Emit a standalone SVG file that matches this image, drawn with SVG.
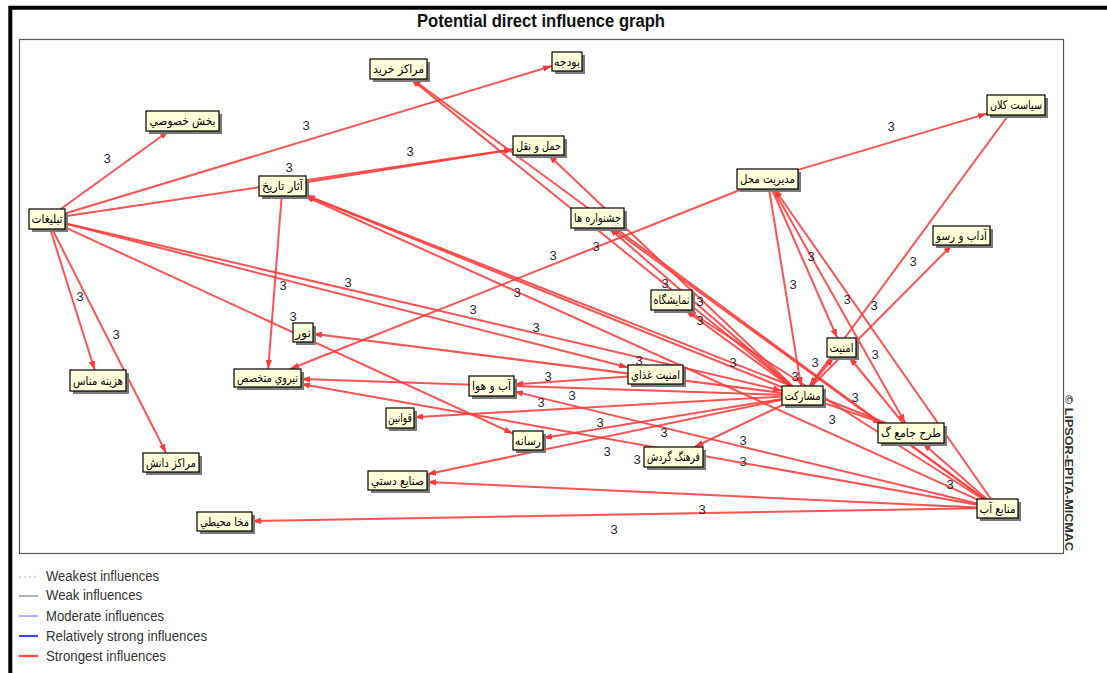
<svg xmlns="http://www.w3.org/2000/svg" width="1107" height="673" viewBox="0 0 1107 673">
<defs>
<marker id="ah" viewBox="0 0 10 7" refX="10" refY="3.5" markerWidth="9" markerHeight="7" markerUnits="userSpaceOnUse" orient="auto">
<path d="M0,0 L10,3.5 L0,7 z" fill="#ff3a3a"/>
</marker>
<style>
.e line{stroke:#ff3a3a;stroke-opacity:0.88;stroke-width:2;fill:none;marker-end:url(#ah)}
.lb{font-family:"Liberation Sans",Arial,sans-serif;font-size:13px;fill:#2b2b33;text-anchor:middle}
.sh{fill:#7a7a7a}
.bx{fill:#ffffd9;stroke:#000;stroke-width:1.2}
.nt{font-family:"DejaVu Sans","Noto Sans",sans-serif;font-size:12px;fill:#000;text-anchor:middle}
.lg{font-family:"Liberation Sans",Arial,sans-serif;font-size:14px;fill:#333}
</style>
</defs>
<rect x="0" y="0" width="1107" height="673" fill="#fff"/>
<path d="M10.3,673 V7.7 H1107" fill="none" stroke="#000" stroke-width="4"/>
<text x="541" y="27" font-family="Liberation Sans,Arial,sans-serif" font-weight="bold" font-size="18" text-anchor="middle" textLength="248" lengthAdjust="spacingAndGlyphs" fill="#111">Potential direct influence graph</text>
<rect x="19.5" y="39.5" width="1044" height="514" fill="#fff" stroke="#555" stroke-width="1.2"/>
<text transform="translate(1065,395) rotate(90)" font-family="Liberation Sans,Arial,sans-serif" font-size="10.5" font-weight="bold" fill="#333" textLength="156" lengthAdjust="spacingAndGlyphs">© LIPSOR-EPITA-MICMAC</text>

<g id="connectors" class="e">
<line x1="60.8" y1="209" x2="168.7" y2="131"/>
<line x1="65" y1="213.5" x2="552" y2="66"/>
<line x1="65" y1="216.3" x2="513" y2="149.3"/>
<line x1="306" y1="182.3" x2="513" y2="149.5"/>
<line x1="798" y1="169.9" x2="987" y2="113.6"/>
<line x1="742.4" y1="189" x2="290.1" y2="369"/>
<line x1="50.2" y1="229" x2="94.7" y2="370"/>
<line x1="52.1" y1="229" x2="166.2" y2="453"/>
<line x1="281.7" y1="196" x2="268.2" y2="369"/>
<line x1="790.7" y1="386" x2="410.9" y2="79"/>
<line x1="792.5" y1="386" x2="548.5" y2="155"/>
<line x1="984.5" y1="499" x2="412.1" y2="79"/>
<line x1="791.5" y1="386" x2="609" y2="228"/>
<line x1="789.5" y1="386" x2="685.2" y2="310"/>
<line x1="982.6" y1="499" x2="687.1" y2="310"/>
<line x1="65" y1="227.3" x2="513" y2="433.6"/>
<line x1="65" y1="223.6" x2="628" y2="367.5"/>
<line x1="65" y1="223.2" x2="782" y2="390.7"/>
<line x1="977" y1="499.3" x2="304.7" y2="196"/>
<line x1="782" y1="387.2" x2="306" y2="195.5"/>
<line x1="885.6" y1="423" x2="306" y2="195.2"/>
<line x1="977" y1="508.2" x2="252" y2="521"/>
<line x1="977" y1="507.5" x2="427" y2="481.9"/>
<line x1="977" y1="504.8" x2="301" y2="384"/>
<line x1="977" y1="503.5" x2="514" y2="391.4"/>
<line x1="986.6" y1="499" x2="922.5" y2="443"/>
<line x1="990.9" y1="499" x2="774.5" y2="189"/>
<line x1="769.1" y1="189" x2="801" y2="386"/>
<line x1="771.9" y1="189" x2="837.3" y2="338"/>
<line x1="773.1" y1="189" x2="905.3" y2="423"/>
<line x1="811.9" y1="386" x2="952.1" y2="245"/>
<line x1="1008.6" y1="115" x2="809.5" y2="386"/>
<line x1="810.2" y1="386" x2="833.8" y2="357"/>
<line x1="823" y1="402.6" x2="882.1" y2="423"/>
<line x1="782" y1="392.9" x2="313" y2="333.8"/>
<line x1="628" y1="376.4" x2="514" y2="384.4"/>
<line x1="782" y1="394.8" x2="301" y2="379.1"/>
<line x1="782" y1="396.6" x2="414" y2="417.2"/>
<line x1="782" y1="398.9" x2="543" y2="438"/>
<line x1="782" y1="399.8" x2="427" y2="474.3"/>
<line x1="782.6" y1="405" x2="694.5" y2="447"/>
<line x1="984.4" y1="499" x2="611.3" y2="228"/>
<line x1="902.9" y1="423" x2="849.2" y2="357"/>
</g>

<g id="connector-labels" class="lb">
<text x="107" y="163">3</text><text x="306" y="130">3</text><text x="289" y="172">3</text><text x="410" y="156">3</text>
<text x="891" y="131">3</text><text x="553" y="260">3</text><text x="596" y="251">3</text><text x="80" y="301">3</text>
<text x="116" y="339">3</text><text x="283" y="290">3</text><text x="348" y="287">3</text><text x="293" y="321">3</text>
<text x="473" y="314">3</text><text x="517" y="297">3</text><text x="536" y="332">3</text><text x="665" y="288">3</text>
<text x="700" y="306">3</text><text x="700" y="325">3</text><text x="639" y="365">3</text><text x="548" y="381">3</text>
<text x="572" y="400">3</text><text x="541" y="407">3</text><text x="600" y="427">3</text><text x="664" y="437">3</text>
<text x="607" y="456">3</text><text x="637" y="464">3</text><text x="702" y="514">3</text><text x="614" y="534">3</text>
<text x="733" y="367">3</text><text x="815" y="367">3</text><text x="795" y="381">3</text><text x="875" y="359">3</text>
<text x="855" y="402">3</text><text x="832" y="424">3</text><text x="743" y="445">3</text><text x="743" y="466">3</text>
<text x="950" y="489">3</text><text x="793" y="289">3</text><text x="847" y="304">3</text><text x="874" y="310">3</text>
<text x="811" y="261">3</text><text x="913" y="266">3</text>
</g>

<g id="node-budjeh"><rect class="sh" x="555" y="55" width="30" height="19"/><rect class="bx" x="552" y="52" width="30" height="19"/><text class="nt" x="567" y="65.5" textLength="26" lengthAdjust="spacingAndGlyphs">بودجه</text></g>
<g id="node-marakez-kharid"><rect class="sh" x="373" y="62" width="57" height="20"/><rect class="bx" x="370" y="59" width="57" height="20"/><text class="nt" x="398.5" y="73" textLength="51" lengthAdjust="spacingAndGlyphs">مراکز خريد</text></g>
<g id="node-bakhsh-khosusi"><rect class="sh" x="149" y="114" width="73" height="20"/><rect class="bx" x="146" y="111" width="73" height="20"/><text class="nt" x="182.5" y="125" textLength="66" lengthAdjust="spacingAndGlyphs">بخش خصوصي</text></g>
<g id="node-haml-naghl"><rect class="sh" x="516" y="139" width="51" height="19"/><rect class="bx" x="513" y="136" width="51" height="19"/><text class="nt" x="538.5" y="149.5" textLength="45" lengthAdjust="spacingAndGlyphs">حمل و نقل</text></g>
<g id="node-asar-tarikh"><rect class="sh" x="262" y="179" width="47" height="20"/><rect class="bx" x="259" y="176" width="47" height="20"/><text class="nt" x="282.5" y="190" textLength="41" lengthAdjust="spacingAndGlyphs">آثار تاريخ</text></g>
<g id="node-tablighat"><rect class="sh" x="32" y="212" width="36" height="20"/><rect class="bx" x="29" y="209" width="36" height="20"/><text class="nt" x="47" y="223" textLength="31" lengthAdjust="spacingAndGlyphs">تبليغات</text></g>
<g id="node-jashnvareh"><rect class="sh" x="574" y="211" width="53" height="20"/><rect class="bx" x="571" y="208" width="53" height="20"/><text class="nt" x="597.5" y="222" textLength="47" lengthAdjust="spacingAndGlyphs">جشنواره ها</text></g>
<g id="node-siasat-kalan"><rect class="sh" x="990" y="98" width="58" height="20"/><rect class="bx" x="987" y="95" width="58" height="20"/><text class="nt" x="1016" y="109" textLength="52" lengthAdjust="spacingAndGlyphs">سياست کلان</text></g>
<g id="node-modiriat-mahal"><rect class="sh" x="740" y="172" width="61" height="20"/><rect class="bx" x="737" y="169" width="61" height="20"/><text class="nt" x="767.5" y="183" textLength="55" lengthAdjust="spacingAndGlyphs">مديريت محل</text></g>
<g id="node-adab-rosum"><rect class="sh" x="936" y="229" width="57" height="19"/><rect class="bx" x="933" y="226" width="57" height="19"/><text class="nt" x="961.5" y="239.5" textLength="51" lengthAdjust="spacingAndGlyphs">آداب و رسو</text></g>
<g id="node-namayeshgah"><rect class="sh" x="654" y="293" width="41" height="20"/><rect class="bx" x="651" y="290" width="41" height="20"/><text class="nt" x="671.5" y="304" textLength="36" lengthAdjust="spacingAndGlyphs">نمايشگاه</text></g>
<g id="node-nur"><rect class="sh" x="296" y="326" width="20" height="19"/><rect class="bx" x="293" y="323" width="20" height="19"/><text class="nt" x="303" y="336.5" textLength="16" lengthAdjust="spacingAndGlyphs">نور</text></g>
<g id="node-amniat"><rect class="sh" x="830" y="341" width="29" height="19"/><rect class="bx" x="827" y="338" width="29" height="19"/><text class="nt" x="841.5" y="351.5" textLength="24" lengthAdjust="spacingAndGlyphs">امنيت</text></g>
<g id="node-hazineh"><rect class="sh" x="73" y="373" width="56" height="21"/><rect class="bx" x="70" y="370" width="56" height="21"/><text class="nt" x="98" y="384.5" textLength="50" lengthAdjust="spacingAndGlyphs">هزينه مناس</text></g>
<g id="node-niruye-motekhases"><rect class="sh" x="237" y="372" width="67" height="18"/><rect class="bx" x="234" y="369" width="67" height="18"/><text class="nt" x="267.5" y="382" textLength="61" lengthAdjust="spacingAndGlyphs">نيروي متخصص</text></g>
<g id="node-amniat-ghazai"><rect class="sh" x="631" y="368" width="55" height="19"/><rect class="bx" x="628" y="365" width="55" height="19"/><text class="nt" x="655.5" y="378.5" textLength="49" lengthAdjust="spacingAndGlyphs">امنيت غذاي</text></g>
<g id="node-ab-hava"><rect class="sh" x="472" y="379" width="45" height="20"/><rect class="bx" x="469" y="376" width="45" height="20"/><text class="nt" x="491.5" y="390" textLength="39" lengthAdjust="spacingAndGlyphs">آب و هوا</text></g>
<g id="node-mosharekat"><rect class="sh" x="785" y="389" width="41" height="19"/><rect class="bx" x="782" y="386" width="41" height="19"/><text class="nt" x="802.5" y="399.5" textLength="36" lengthAdjust="spacingAndGlyphs">مشارکت</text></g>
<g id="node-ghavanin"><rect class="sh" x="389" y="411" width="28" height="20"/><rect class="bx" x="386" y="408" width="28" height="20"/><text class="nt" x="400" y="422" textLength="24" lengthAdjust="spacingAndGlyphs">قوانين</text></g>
<g id="node-resaneh"><rect class="sh" x="516" y="434" width="30" height="19"/><rect class="bx" x="513" y="431" width="30" height="19"/><text class="nt" x="528" y="444.5" textLength="26" lengthAdjust="spacingAndGlyphs">رسانه</text></g>
<g id="node-tarh-jame"><rect class="sh" x="881" y="426" width="66" height="20"/><rect class="bx" x="878" y="423" width="66" height="20"/><text class="nt" x="911" y="437" textLength="60" lengthAdjust="spacingAndGlyphs">طرح جامع گ</text></g>
<g id="node-farhang-gardesh"><rect class="sh" x="647" y="450" width="59" height="20"/><rect class="bx" x="644" y="447" width="59" height="20"/><text class="nt" x="673.5" y="461" textLength="53" lengthAdjust="spacingAndGlyphs">فرهنگ گردش</text></g>
<g id="node-marakez-danesh"><rect class="sh" x="146" y="456" width="56" height="19"/><rect class="bx" x="143" y="453" width="56" height="19"/><text class="nt" x="171" y="466.5" textLength="50" lengthAdjust="spacingAndGlyphs">مراکز دانش</text></g>
<g id="node-sanaye-dasti"><rect class="sh" x="371" y="474" width="59" height="19"/><rect class="bx" x="368" y="471" width="59" height="19"/><text class="nt" x="397.5" y="484.5" textLength="53" lengthAdjust="spacingAndGlyphs">صنايع دستي</text></g>
<g id="node-manabe-ab"><rect class="sh" x="980" y="502" width="41" height="19"/><rect class="bx" x="977" y="499" width="41" height="19"/><text class="nt" x="997.5" y="512.5" textLength="36" lengthAdjust="spacingAndGlyphs">منابع آب</text></g>
<g id="node-mokha-mohiti"><rect class="sh" x="200" y="515" width="55" height="19"/><rect class="bx" x="197" y="512" width="55" height="19"/><text class="nt" x="224.5" y="525.5" textLength="49" lengthAdjust="spacingAndGlyphs">مخا محيطي</text></g>

<g id="legend">
<line x1="19" y1="577" x2="38" y2="577" stroke="#b8b8b8" stroke-width="1" stroke-dasharray="2,3"/>
<line x1="19" y1="596" x2="38" y2="596" stroke="#808080" stroke-width="1.2"/>
<line x1="19" y1="616" x2="38" y2="616" stroke="#8080ff" stroke-width="1.2"/>
<line x1="19" y1="636" x2="38" y2="636" stroke="#4444ff" stroke-width="2.2"/>
<line x1="19" y1="656" x2="38" y2="656" stroke="#ff4a4a" stroke-width="2.4"/>
<text class="lg" x="46" y="581" textLength="113" lengthAdjust="spacingAndGlyphs">Weakest influences</text>
<text class="lg" x="46" y="600" textLength="96" lengthAdjust="spacingAndGlyphs">Weak influences</text>
<text class="lg" x="46" y="621" textLength="118" lengthAdjust="spacingAndGlyphs">Moderate influences</text>
<text class="lg" x="46" y="641" textLength="161" lengthAdjust="spacingAndGlyphs">Relatively strong influences</text>
<text class="lg" x="46" y="661" textLength="120" lengthAdjust="spacingAndGlyphs">Strongest influences</text>
</g>
</svg>
